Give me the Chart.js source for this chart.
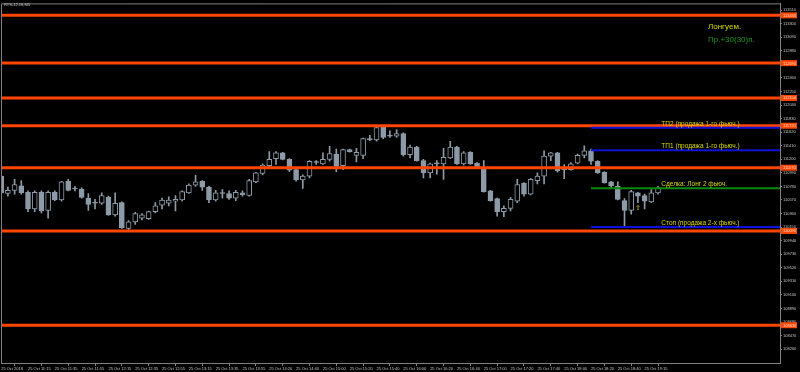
<!DOCTYPE html>
<html><head><meta charset="utf-8">
<script src="https://cdn.jsdelivr.net/npm/chart.js@4/dist/chart.umd.min.js"></script>
<style>html,body{margin:0;padding:0;background:#000;overflow:hidden}</style>
</head><body>
<canvas id="c" width="800" height="372" style="width:800px;height:372px;display:block"></canvas>
<script>
// ---- data (RTS-12.18, M5, 25 Oct 2018) ----
const opens  = [110940,110670,110720,110790,110690,110430,110690,110410,110690,110570,110860,110740,110740,110600,110520,110520,110610,110340,110530,110130,110230,110290,110280,110390,110490,110520,110550,110570,110680,110800,110860,110770,110570,110670,110670,110600,110680,110640,110850,110980,111100,111210,111300,111200,111040,110880,110940,111150,111130,111200,111280,111100,111350,111260,111260,111520,111500,111700,111560,111560,111600,111270,111390,111180,110990,111130,111130,111220,111390,111130,111310,111140,111080,110710,110590,110390,110440,110550,110830,110660,110870,110940,111250,111300,111040,111040,111140,111260,111330,111170,111000,110850,110780,110560,110410,110680,110640,110540,110680];
const highs  = [110980,110770,110890,110870,110710,110710,110710,110710,110710,110860,110890,110780,110760,110670,110580,110680,110630,110680,110540,110250,110380,110360,110400,110530,110600,110620,110640,110710,110820,110950,110870,110780,110720,110730,110710,110720,110710,110890,111000,111130,111320,111320,111310,111210,111050,110960,111180,111180,111300,111400,111360,111360,111360,111370,111530,111570,111710,111710,111640,111660,111610,111420,111400,111200,111140,111180,111370,111480,111400,111320,111320,111150,111180,110720,110600,110480,110610,110890,110840,110900,110990,111330,111310,111310,111120,111150,111280,111410,111360,111180,111010,110860,110850,110590,110720,110690,110660,110730,110780];
const lows   = [110660,110630,110660,110660,110390,110390,110370,110290,110560,110550,110710,110710,110600,110410,110430,110500,110330,110320,110130,110100,110190,110260,110270,110370,110430,110480,110400,110550,110670,110780,110720,110530,110550,110600,110580,110560,110630,110630,110840,110960,111090,111120,111190,111010,110860,110750,110910,111120,111120,111170,111010,111040,111310,111160,111210,111490,111480,111520,111540,111540,111250,111220,111170,110910,110910,110970,110890,111210,111120,111110,111120,111060,110690,110550,110320,110310,110400,110530,110630,110650,110820,110820,111180,111000,110900,111030,111130,111220,111120,110980,110830,110760,110570,110170,110350,110530,110430,110530,110660];
const closes = [110680,110720,110810,110680,110430,110690,110400,110690,110570,110850,110720,110740,110610,110500,110520,110640,110340,110520,110140,110230,110360,110340,110390,110480,110570,110570,110580,110700,110800,110850,110770,110570,110680,110670,110600,110690,110650,110870,110990,111110,111200,111300,111200,111030,110880,110940,111170,111150,111200,111290,111090,111350,111320,111310,111520,111500,111690,111540,111560,111600,111270,111390,111180,110990,111130,111130,111230,111390,111130,111300,111130,111070,110700,110560,110390,110440,110580,110810,110660,110890,110940,111250,111300,111020,111040,111130,111260,111330,111170,110990,110840,110790,110580,110410,110700,110630,110550,110680,110760];

const xTickIndex  = [0,4,8,12,16,20,24,28,32,36,40,44,48,52,56,60,64,68,72,76,80,84,88,92,96];
const xTickLabels = ["25 Oct 2018","25 Oct 11:15","25 Oct 11:35","25 Oct 11:55","25 Oct 12:15","25 Oct 12:35","25 Oct 12:55","25 Oct 13:15","25 Oct 13:35","25 Oct 13:55","25 Oct 14:20","25 Oct 14:40","25 Oct 15:00","25 Oct 15:20","25 Oct 15:40","25 Oct 16:00","25 Oct 16:20","25 Oct 16:40","25 Oct 17:00","25 Oct 17:20","25 Oct 17:40","25 Oct 18:00","25 Oct 18:20","25 Oct 18:40","25 Oct 19:15"];
const yTickValues = [108260,108470,108680,108890,109100,109310,109520,109730,109940,110150,110360,110570,110780,110990,111200,111410,111620,111830,112040,112250,112460,112670,112880,113090,113300,113510];

const levelPrices = [113430,112690,112150,111720,111070,110090,108630];
const tradePrices = [111690,111340,110750,110150];
const tradeTexts  = ["ТП2 (продажа 1-го фьюч.)","ТП1 (продажа 1-го фьюч.)","Сделка: Лонг 2 фьюч.","Стоп (продажа 2-х фьюч.)"];
const tradeStartIndex = 88;
const tradeTextIndex = 98.5;
const arrowIndex = 95, arrowPrice = 110450;
const symbolTitle = "RTS-12.18,M5";
const cornerTexts = ["Лонгуем.","Пр.+30(30)п."];

// ---- view / style ----
const X_MIN = -0.03, X_MAX = 116.2, Y_MIN = 108045, Y_MAX = 113615;
const candleGrey = '#8d9aa7';
const frameGrey = '#808080';
const labelGrey = '#c4c4c4';
const orange = '#ff4500';
const tradeColors = ['#1010d8','#1010d8','#0a8a0a','#1010d8'];
const yellow = '#d8d800';

const bodies = opens.map((o,i)=>({x:i, y:[Math.min(o,closes[i]), Math.max(o,closes[i])]}));
const wicks = highs.map((h,i)=>({x:i, y:[lows[i], h]}));
const bodyFill = opens.map((o,i)=> closes[i] > o ? '#000000' : candleGrey);

const datasets = [];
// trade lines first so they are painted above the orange levels
tradePrices.forEach((p,k)=>datasets.push({type:'line', data:[{x:tradeStartIndex,y:p},{x:X_MAX,y:p}], borderColor:tradeColors[k], borderWidth:2, pointRadius:0, order:0}));
levelPrices.forEach(p=>datasets.push({type:'line', data:[{x:X_MIN,y:p},{x:X_MAX,y:p}], borderColor:orange, borderWidth:3, pointRadius:0, order:0}));
datasets.push({type:'bar', data:bodies, backgroundColor:bodyFill, borderColor:candleGrey, borderWidth:1, borderSkipped:false, barThickness:5, minBarLength:1, grouped:false, order:1});
datasets.push({type:'bar', data:wicks, backgroundColor:candleGrey, borderWidth:0, barThickness:1, grouped:false, order:2});

const overlay = {
  id:'overlay',
  beforeDraw(chart){
    const c = chart.ctx; c.save(); c.fillStyle='#000'; c.fillRect(0,0,chart.width,chart.height); c.restore();
  },
  afterDraw(chart){
    const {ctx, chartArea:ca, scales:{x,y}} = chart;
    ctx.save();
    ctx.strokeStyle = frameGrey; ctx.lineWidth = 1;
    ctx.beginPath();
    ctx.moveTo(ca.left+0.5, ca.bottom); ctx.lineTo(ca.left+0.5, ca.top+0.5); ctx.lineTo(ca.right, ca.top+0.5);
    ctx.stroke();
    ctx.font = "4px 'Liberation Sans'"; ctx.textBaseline='middle'; ctx.textAlign='left';
    levelPrices.forEach(p=>{
      const py = y.getPixelForValue(p);
      ctx.fillStyle = orange; ctx.fillRect(ca.right+1, py-3, 16, 6);
      ctx.fillStyle = '#ffd9c8'; ctx.fillText(String(p), ca.right+3, py+0.3);
    });
    ctx.font = "6.5px 'Liberation Sans'"; ctx.textBaseline='alphabetic'; ctx.fillStyle = yellow;
    tradePrices.forEach((p,k)=>{
      ctx.fillText(tradeTexts[k], x.getPixelForValue(tradeTextIndex), y.getPixelForValue(p)-2);
    });
    ctx.font = "7px 'DejaVu Sans'"; ctx.textAlign='center'; ctx.textBaseline='middle';
    ctx.fillText('⇧', x.getPixelForValue(arrowIndex), y.getPixelForValue(arrowPrice));
    ctx.textAlign='left'; ctx.textBaseline='middle';
    ctx.font = "8px 'Liberation Sans'";
    ctx.fillStyle = '#d8d800'; ctx.fillText(cornerTexts[0], ca.right-72, 26.5);
    ctx.fillStyle = '#1a9a1a'; ctx.fillText(cornerTexts[1], ca.right-72, 39.5);
    ctx.font = "4px 'Liberation Sans'"; ctx.fillStyle = labelGrey;
    ctx.fillText(symbolTitle, ca.left+3, 5);
    ctx.restore();
  }
};

new Chart(document.getElementById('c'), {
  type:'bar',
  data:{datasets},
  options:{
    responsive:false, animation:false, devicePixelRatio:1,
    layout:{padding:{left:1, top:1, right:0, bottom:0}},
    plugins:{legend:{display:false}, tooltip:{enabled:false}},
    scales:{
      x:{type:'linear', min:X_MIN, max:X_MAX, offset:false,
        afterFit(s){ s.height = 9; },
        afterBuildTicks(s){ s.ticks = xTickIndex.map(v=>({value:v})); },
        grid:{drawOnChartArea:false, drawTicks:true, tickLength:3, color:frameGrey},
        border:{color:frameGrey, width:1},
        ticks:{autoSkip:false, maxRotation:0, align:'start', padding:0, color:labelGrey,
          font:{family:"'Liberation Sans'", size:4},
          callback(v){ const k = xTickIndex.indexOf(v); return k>=0 ? xTickLabels[k] : ''; }}
      },
      y:{type:'linear', position:'right', min:Y_MIN, max:Y_MAX,
        afterFit(s){ s.width = 20; },
        afterBuildTicks(s){ s.ticks = yTickValues.map(v=>({value:v})); },
        grid:{drawOnChartArea:false, drawTicks:true, tickLength:2, color:frameGrey},
        border:{color:frameGrey, width:1},
        ticks:{autoSkip:false, padding:1, color:labelGrey,
          font:{family:"'Liberation Sans'", size:4},
          callback(v){ return String(v); }}
      }
    }
  },
  plugins:[overlay]
});
</script>
</body></html>
